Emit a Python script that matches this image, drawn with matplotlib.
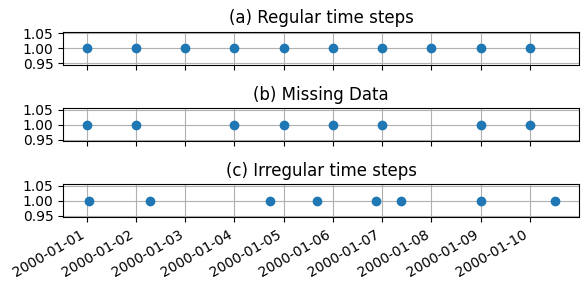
import numpy as np
import pandas as pd
import matplotlib.pyplot as plt

# 三種時間步
regular_dates = pd.date_range('2000-01-01', '2000-01-10', freq='D')
missing_dates = pd.to_datetime(['2000-01-01', '2000-01-02', '2000-01-04', '2000-01-05',
                                '2000-01-06', '2000-01-07', '2000-01-09', '2000-01-10'])
irregular_dates = pd.to_datetime(['2000-01-01 01:15', '2000-01-02 06:45', '2000-01-04 17:15',
                                  '2000-01-05 16:20', '2000-01-06 21:00', '2000-01-07 09:00',
                                  '2000-01-09 00:00', '2000-01-10 12:30'])

regular_values = [1.0] * len(regular_dates)
missing_values = [1.0] * len(missing_dates)
irregular_values = [1.0] * len(irregular_dates)

titles = ['(a) Regular time steps', '(b) Missing Data', '(c) Irregular time steps']

fig, axes = plt.subplots(3, 1, sharex=True, figsize=(5.87, 2.89), dpi=100)

series = [(regular_dates, regular_values),
          (missing_dates, missing_values),
          (irregular_dates, irregular_values)]

for ax, (x, y), title in zip(axes, series, titles):
    ax.plot(x, y, 'o', color='tab:blue')
    ax.set_title(title)
    ax.set_yticks([0.95, 1.00, 1.05])
    ax.grid()

fig.autofmt_xdate()
plt.subplots_adjust(left=0.108, right=0.986, top=0.890, bottom=0.248, hspace=1.32)
plt.savefig('out.png')
